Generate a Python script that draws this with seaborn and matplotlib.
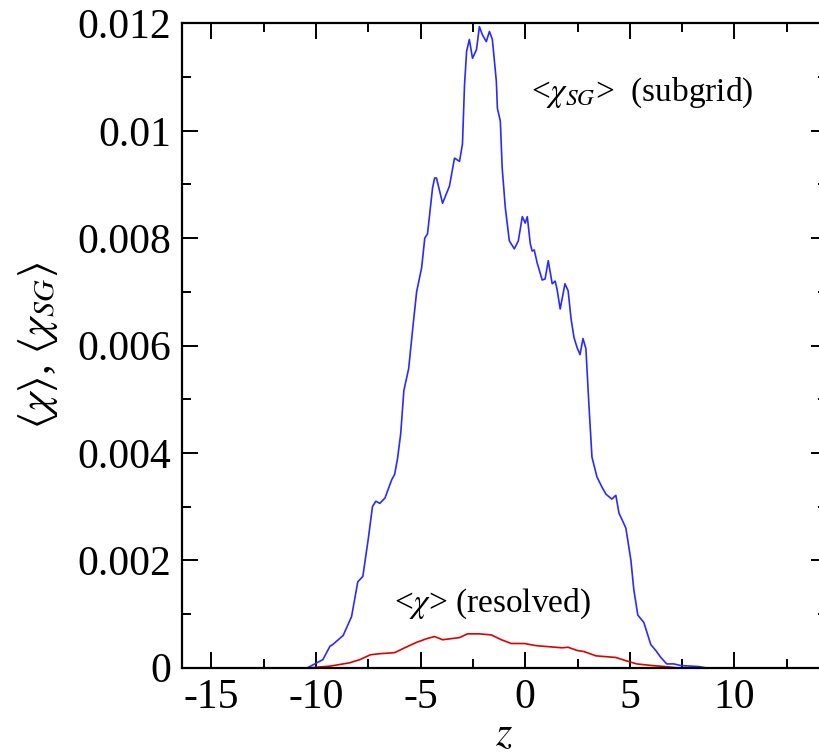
import numpy as np
import pandas as pd
import matplotlib
matplotlib.use("Agg")
import matplotlib.pyplot as plt
import seaborn as sns
from matplotlib.ticker import MultipleLocator

# ---- data ----
z_sg = [-10.4, -10.3, -9.67, -9.33, -9.2, -8.7, -8.3, -8.0, -7.76, -7.5, -7.3, -7.14, -6.95, -6.7,
        -6.57, -6.38, -6.24, -6.1, -5.95, -5.8, -5.57, -5.38, -5.19, -4.95, -4.8, -4.67, -4.43,
        -4.33, -4.24, -3.95, -3.62, -3.38, -3.14, -3.0, -2.9, -2.8, -2.67, -2.52, -2.33, -2.19,
        -2.05, -1.86, -1.71, -1.57, -1.38, -1.33, -1.19, -1.1, -0.95, -0.76, -0.52, -0.33, -0.14,
        0.0, 0.1, 0.24, 0.33, 0.43, 0.57, 0.81, 0.95, 1.1, 1.29, 1.43, 1.52, 1.67, 1.9, 2.05,
        2.19, 2.33, 2.48, 2.62, 2.76, 2.9, 3.05, 3.19, 3.43, 3.67, 3.86, 4.14, 4.33, 4.48, 4.81,
        5.05, 5.19, 5.38, 5.67, 6.0, 6.24, 6.48, 6.76, 7.1, 7.43, 8.3, 8.6]
chi_sg_e3 = [0, 0.02, 0.15, 0.40, 0.43, 0.60, 0.95, 1.60, 1.70, 2.40, 3.00, 3.10, 3.06, 3.16,
             3.30, 3.50, 3.60, 3.90, 4.36, 5.16, 5.57, 6.30, 7.00, 7.45, 8.00, 8.08, 8.93,
             9.12, 9.12, 8.65, 8.97, 9.49, 9.43, 9.75, 10.86, 11.48, 11.70, 11.35, 11.51, 11.94,
             11.79, 11.66, 11.85, 11.70, 10.92, 10.42, 10.18, 9.30, 8.56, 7.95, 7.80, 7.95, 8.40,
             8.28, 8.40, 7.90, 7.76, 7.78, 7.54, 7.22, 7.24, 7.58, 7.15, 7.20, 7.05, 6.68, 7.15, 7.02,
             6.50, 6.15, 5.96, 5.83, 6.13, 5.94, 4.85, 3.92, 3.55, 3.36, 3.23, 3.14, 3.21, 2.88, 2.60,
             2.00, 1.45, 0.98, 0.84, 0.43, 0.32, 0.19, 0.07, 0.07, 0.04, 0.02, 0.0]

z_res = [-10.4, -10.2, -9.3, -8.4, -7.9, -7.4, -6.95, -6.24, -5.76, -5.2, -4.71, -4.33, -3.95,
         -3.14, -2.76, -2.19, -1.62, -1.14, -0.67, -0.05, 0.52, 1.14, 1.76, 2.05, 2.48, 2.81,
         3.38, 4.33, 4.81, 5.33, 6.05, 6.7, 7.2]
chi_res_e3 = [0, 0, 0.03, 0.09, 0.15, 0.24, 0.26, 0.28, 0.37, 0.47, 0.54, 0.58, 0.52, 0.56,
              0.63, 0.63, 0.61, 0.52, 0.45, 0.45, 0.41, 0.39, 0.37, 0.38, 0.32, 0.30, 0.22,
              0.19, 0.13, 0.07, 0.04, 0.02, 0.0]

x_ticks = [-15, -10, -5, 0, 5, 10]
y_ticks = [0, 0.002, 0.004, 0.006, 0.008, 0.01, 0.012]
y_tick_labels = ["0", "0.002", "0.004", "0.006", "0.008", "0.01", "0.012"]

df = pd.concat([
    pd.DataFrame({"z": z_sg, "chi": np.array(chi_sg_e3) * 1e-3, "kind": "subgrid"}),
    pd.DataFrame({"z": z_res, "chi": np.array(chi_res_e3) * 1e-3, "kind": "resolved"}),
], ignore_index=True)

sns.set_theme(style="ticks")
plt.rcParams["font.family"] = ["Liberation Serif", "DejaVu Serif"]
plt.rcParams["mathtext.fontset"] = "stix"
for k in ["text.color", "axes.labelcolor", "xtick.color", "ytick.color", "axes.edgecolor"]:
    plt.rcParams[k] = "black"

fig = plt.figure(figsize=(8.2, 7.54), dpi=100)
ax = fig.add_axes([0.222, 0.1145, 1.008 - 0.222, 0.969 - 0.1145])

sns.lineplot(data=df, x="z", y="chi", hue="kind",
             palette={"subgrid": "#2a2aff", "resolved": "#dd0000"},
             linewidth=1.2, legend=False, ax=ax, sort=False, estimator=None)

ax.set_xlim(-16.4, 14.4)
ax.set_ylim(0, 0.012)
ax.set_xticks(x_ticks)
ax.set_yticks(y_ticks)
ax.xaxis.set_minor_locator(MultipleLocator(2.5))
ax.yaxis.set_minor_locator(MultipleLocator(0.001))
ax.set_xticklabels([str(t) for t in x_ticks])
ax.set_yticklabels(y_tick_labels)

ax.tick_params(which="both", direction="in", top=True, right=True, labelsize=30, width=1.4, color="black")
ax.tick_params(which="major", length=11.5)
ax.tick_params(which="minor", length=6.5)
ax.tick_params(axis="y", pad=8)
ax.tick_params(axis="x", pad=8)
for s in ax.spines.values():
    s.set_linewidth(1.6)
    s.set_color("black")

ax.set_xlabel(r"$z$", fontsize=30, labelpad=-1)
ax.set_ylabel(r"$\langle\chi\rangle$, $\langle\chi_{SG}\rangle$", fontsize=31, labelpad=12)

ax.text(0.28, 0.0107, r"<$\chi_{SG}$>  (subgrid)", fontsize=24, va="center", ha="left")
ax.text(-6.28, 0.00119, r"<$\chi$> (resolved)", fontsize=24, va="center", ha="left")

fig.savefig("out.png", dpi=100)
